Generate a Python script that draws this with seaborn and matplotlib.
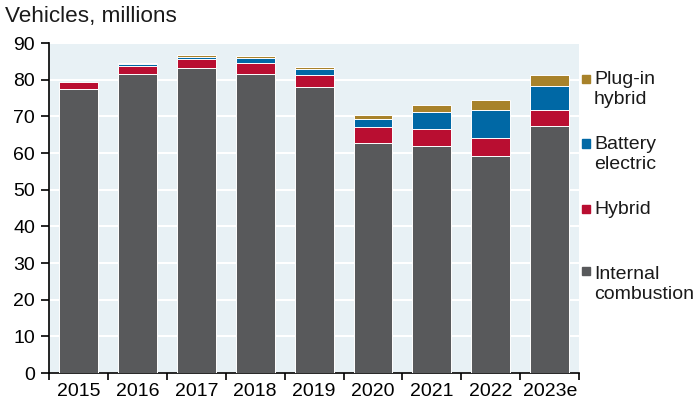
import matplotlib
matplotlib.use('Agg')
import matplotlib.pyplot as plt
import numpy as np
import pandas as pd
import seaborn as sns
from matplotlib.patches import Rectangle

years = ['2015', '2016', '2017', '2018', '2019', '2020', '2021', '2022', '2023e']
ice = [77.6, 81.7, 83.1, 81.7, 78.0, 62.8, 62.0, 59.2, 67.4]
hybrid = [1.8, 2.1, 2.6, 2.9, 3.3, 4.2, 4.6, 5.0, 4.4]
bev = [0.1, 0.5, 0.6, 1.3, 1.6, 2.3, 4.6, 7.5, 6.6]
phev = [0.0, 0.2, 0.4, 0.6, 0.6, 1.0, 2.0, 2.9, 2.9]

series = ['Internal\ncombustion', 'Hybrid', 'Battery\nelectric', 'Plug-in\nhybrid']
colors = ['#58595b', '#b90e31', '#0068a5', '#a8822a']

df = pd.DataFrame({'year': years, series[0]: ice, series[1]: hybrid,
                   series[2]: bev, series[3]: phev})
# cumulative tops so each layer can be drawn over the one above it
stack = df[series].cumsum(axis=1)
stack['year'] = df['year']

sns.set_theme(style='white')
plt.rcParams['font.family'] = ['Liberation Sans', 'DejaVu Sans']

fig = plt.figure(figsize=(6.93, 4.07), dpi=100)
ax = fig.add_axes([0.0707, 0.0835, 0.765, 0.8105])
ax.set_facecolor('#e8f1f5')

for name, col in reversed(list(zip(series, colors))):
    sns.barplot(data=stack, x='year', y=name, color=col, width=0.66,
                edgecolor='white', linewidth=0.7, saturation=1, ax=ax, zorder=3)

ax.set_ylim(0, 90)
ax.set_xlim(-0.5, len(years) - 0.5)
ax.set_yticks(np.arange(0, 91, 10))
ax.yaxis.grid(True, color='white', linewidth=1.5, zorder=1)
ax.set_axisbelow(True)
ax.set_xlabel('')
ax.set_ylabel('')

# labels at bar centres, tick marks at category boundaries
ax.set_xticks(range(len(years)))
ax.set_xticklabels(years)
ax.set_xticks(np.arange(-0.5, len(years), 1), minor=True)
ax.tick_params(axis='x', which='major', length=0, pad=7, labelsize=14, labelcolor='black')
ax.tick_params(axis='x', which='minor', length=5, width=1.2, color='black', direction='out', bottom=True)
ax.tick_params(axis='y', length=6, width=1.2, color='black', direction='out', left=True,
               pad=4, labelsize=14, labelcolor='black')

for spine in ['top', 'right']:
    ax.spines[spine].set_visible(False)
for spine in ['left', 'bottom']:
    ax.spines[spine].set_color('black')
    ax.spines[spine].set_linewidth(1.2)

fig.text(0.007, 0.96, 'Vehicles, millions', fontsize=16.2, color='#1a1a1a', va='center')

# legend drawn by hand, top entry first
legend_y = [89.5, 154.5, 209, 284.5]
square_y = [79, 143.5, 209, 270.5]
for name, col, ty, sy in zip(reversed(series), reversed(colors), legend_y, square_y):
    fig.add_artist(Rectangle((582 / 693, 1 - (sy + 4) / 407), 8 / 693, 8 / 407,
                             transform=fig.transFigure, color=col))
    fig.text(594 / 693, 1 - ty / 407, name, fontsize=14, color='#1a1a1a',
             va='center', ha='left', linespacing=1.3)

fig.savefig('out.png', dpi=100)
